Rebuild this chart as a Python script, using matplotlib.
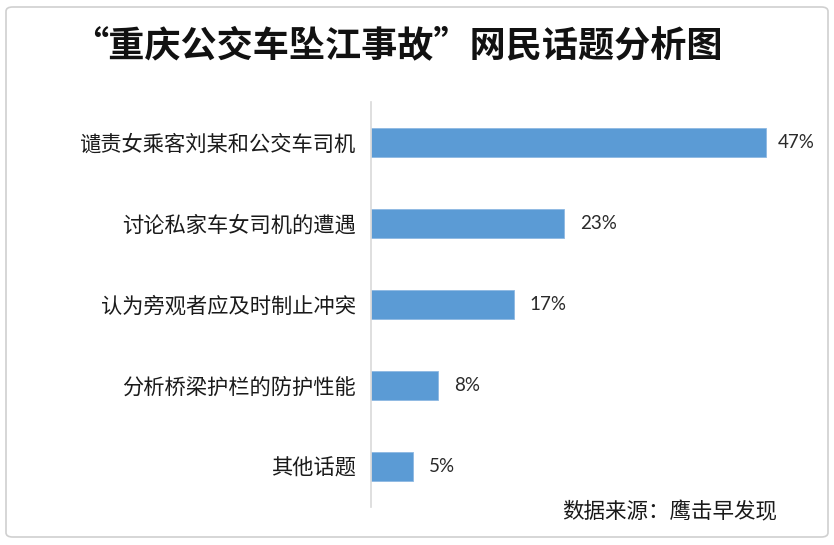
import matplotlib
matplotlib.use("Agg")
import matplotlib.pyplot as plt
from matplotlib.patches import FancyBboxPatch

plt.rcParams['font.family'] = ['Noto Sans CJK SC', 'DejaVu Sans']

categories = ["谴责女乘客刘某和公交车司机", "讨论私家车女司机的遭遇", "认为旁观者应及时制止冲突",
              "分析桥梁护栏的防护性能", "其他话题"]
values = [47, 23, 17, 8, 5]
title = "“重庆公交车坠江事故”网民话题分析图"
source = "数据来源：鹰击早发现"

W, H = 834, 545
fig = plt.figure(figsize=(W / 100, H / 100), dpi=100)
fig.patch.set_facecolor("white")

border = FancyBboxPatch((6 / W, 8 / H), 822 / W, 530 / H,
                        boxstyle="round,pad=0,rounding_size=0.008",
                        transform=fig.transFigure, fill=False,
                        edgecolor="#d0d0d0", linewidth=1.2)
fig.patches.append(border)

left, right = 371 / W, 815 / W
bottom, top = 1 - 507 / H, 1 - 102 / H
ax = fig.add_axes([left, bottom, right - left, top - bottom])

n = len(categories)
ypos = list(range(n))
ax.barh(ypos, values, height=0.36, color="#5B9BD5", edgecolor="#8DB8E2", linewidth=0.6)
ax.set_ylim(n - 0.5, -0.5)
xmax = 47 * (815 - 371) / (766 - 371)
ax.set_xlim(0, xmax)

ax.set_yticks(ypos)
ax.set_yticklabels(categories, fontsize=15.3, color="#1a1a1a")
ax.tick_params(axis='y', length=0, pad=11)
ax.set_xticks([])
for s in ["top", "right", "bottom"]:
    ax.spines[s].set_visible(False)
ax.spines["left"].set_color("#d9d9d9")
ax.spines["left"].set_linewidth(1.2)

fig.canvas.draw()
renderer = fig.canvas.get_renderer()
ax_right_px = ax.get_window_extent(renderer).x1
for y, v in zip(ypos, values):
    t = ax.annotate(f"{v}%", xy=(v, y), xytext=(11.5, 0), textcoords="offset points",
                    va="center", ha="left", fontsize=13.5, color="#2a2a2a",
                    family=["Lato", "DejaVu Sans"])
    ext = t.get_window_extent(renderer)
    if ext.x1 > ax_right_px:
        shift_px = ext.x1 - ax_right_px
        new_off = max(11.5 - shift_px * 72 / 100, 6)
        t.set_position((new_off, 0))

fig.text(397 / W, 1 - 46 / H, title, ha="center", va="center",
         fontsize=26, fontweight="bold", color="#111111")
fig.text(670 / W, 1 - 512 / H, source, ha="center", va="center",
         fontsize=15.5, color="#1a1a1a")

fig.savefig("out.png", dpi=100, facecolor="white")
